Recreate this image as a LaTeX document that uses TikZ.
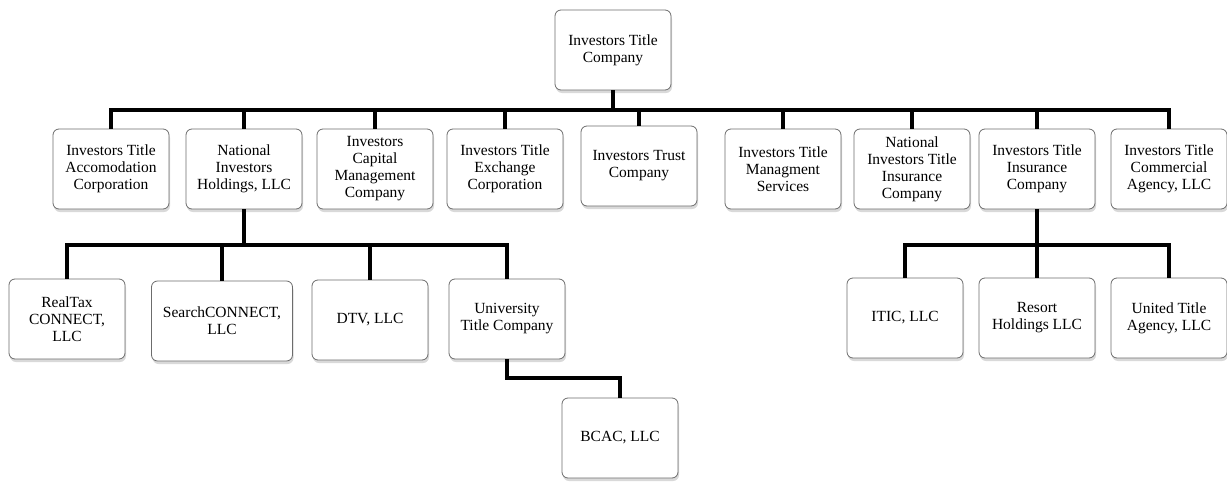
\documentclass[tikz,border=0pt]{standalone}
\usepackage{fontspec}
\setmainfont{Liberation Serif}
\usetikzlibrary{shadows}
\tikzset{
  firm/.style={draw=gray!85!black, line width=.8pt, fill=white, rounded corners=6pt,
    align=center, minimum width=116pt, minimum height=80pt, inner sep=2pt,
    font=\fontsize{15.5}{17}\selectfont,
    drop shadow={shadow xshift=1pt, shadow yshift=-3pt, opacity=.3}},
  link/.style={black, line width=4.5pt}
}

\begin{document}
\begin{tikzpicture}[x=1pt, y=-1pt]
\useasboundingbox (0,0) rectangle (1227,482);
\node[firm] (itc) at (613,50) {Investors Title\\Company};
\node[firm] (aco) at (111,169) {Investors Title\\Accomodation\\Corporation};
\node[firm] (nih) at (244,169) {National\\Investors\\Holdings, LLC};
\node[firm] (icm) at (375,169) {Investors\\Capital\\Management\\Company};
\node[firm] (itec) at (505,169) {Investors Title\\Exchange\\Corporation};
\node[firm] (trust) at (639,166) {Investors Trust\\Company};
\node[firm] (itms) at (783,169) {Investors Title\\Managment\\Services};
\node[firm] (niti) at (912,169) {National\\Investors Title\\Insurance\\Company};
\node[firm] (itic) at (1037,169) {Investors Title\\Insurance\\Company};
\node[firm] (itca) at (1169,169) {Investors Title\\Commercial\\Agency, LLC};
\node[firm] (realtax) at (67,319) {RealTax\\CONNECT,\\LLC};
\node[firm, minimum width=141pt] (search) at (222,321) {SearchCONNECT,\\LLC};
\node[firm] (dtv) at (370,320) {DTV, LLC};
\node[firm] (univ) at (507,319) {University\\Title Company};
\node[firm] (bcac) at (620,438) {BCAC, LLC};
\node[firm] (iticllc) at (905,318) {ITIC, LLC};
\node[firm] (resort) at (1037,318) {Resort\\Holdings LLC};
\node[firm] (united) at (1169,318) {United Title\\Agency, LLC};
\coordinate (bus0) at (0,110);
\coordinate (bus1) at (0,245);
\coordinate (bus2) at (0,378);
\foreach \n in {aco,nih,icm,itec,trust,itms,niti,itic,itca} {
  \draw[link] (itc.south) -- (itc.south |- bus0) -| (\n.north);
}
\foreach \n in {realtax,search,dtv,univ} {
  \draw[link] (nih.south) -- (nih.south |- bus1) -| (\n.north);
}
\foreach \n in {iticllc,resort,united} {
  \draw[link] (itic.south) -- (itic.south |- bus1) -| (\n.north);
}
\draw[link] (univ.south) -- (univ.south |- bus2) -| (bcac.north);
\end{tikzpicture}
\end{document}
